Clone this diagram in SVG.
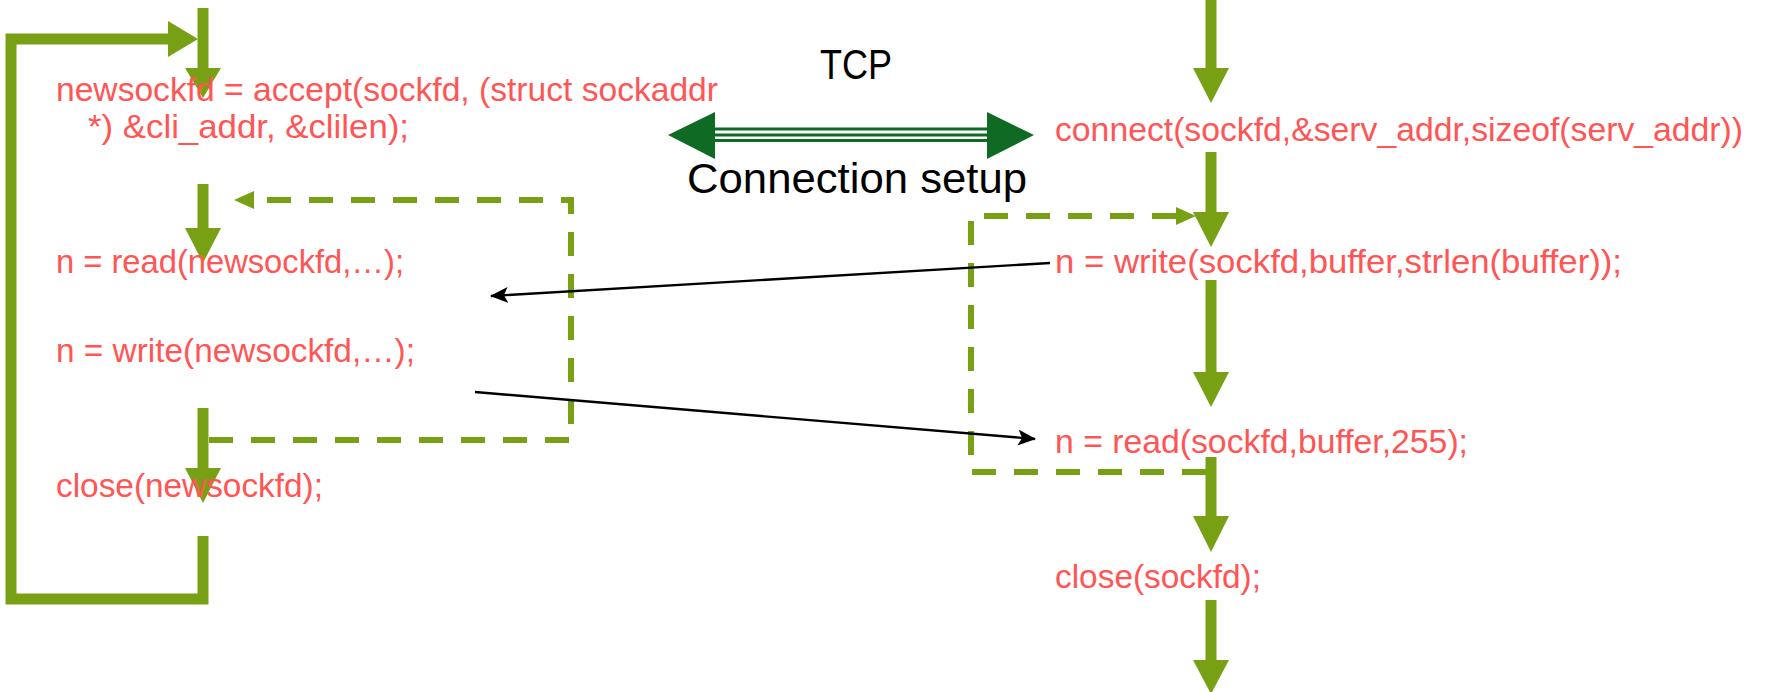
<svg xmlns="http://www.w3.org/2000/svg" width="1765" height="692" viewBox="0 0 1765 692">
<defs>
<style>
.code{font-family:"Liberation Sans",Arial,sans-serif;font-size:34px;fill:#ff5555;}
.lbl{font-family:"Liberation Sans",Arial,sans-serif;font-size:42px;fill:#000;}
.flow{stroke:#78a014;stroke-width:11;fill:none;}
.head{fill:#78a014;}
.dash{stroke:#78a014;stroke-width:6;fill:none;stroke-dasharray:24 18;}
.msg{stroke:#000;stroke-width:2.4;fill:none;marker-end:url(#blk);}
</style>
<marker id="blk" markerWidth="18" markerHeight="16" refX="17" refY="8" orient="auto" markerUnits="userSpaceOnUse">
<path d="M0,0 L18,8 L0,16 L4,8 Z" fill="#000"/>
</marker>
</defs>
<rect width="1765" height="692" fill="#fff"/>
<g id="connectors">
<path class="flow" d="M203,536 V599 H11 V39 H172" stroke-linejoin="miter"/>
<polygon class="head" points="168,21 198,39 168,57"/>
<line class="flow" x1="203" y1="8" x2="203" y2="70"/>
<polygon class="head" points="185,68 221,68 203,98"/>
<line class="flow" x1="203" y1="184" x2="203" y2="230"/>
<polygon class="head" points="185,228 221,228 203,263"/>
<line class="flow" x1="203" y1="408" x2="203" y2="470"/>
<polygon class="head" points="185,468 221,468 203,503"/>
<polyline class="dash" points="209,440 571,440 571,200 253,200"/>
<polygon class="head" points="254,191 254,209 234,200"/>
<line class="flow" x1="1211" y1="0" x2="1211" y2="70"/>
<polygon class="head" points="1193,68 1229,68 1211,103"/>
<line class="flow" x1="1211" y1="152" x2="1211" y2="214"/>
<polygon class="head" points="1193,212 1229,212 1211,247"/>
<line class="flow" x1="1211" y1="280" x2="1211" y2="374"/>
<polygon class="head" points="1193,372 1229,372 1211,407"/>
<line class="flow" x1="1211" y1="457" x2="1211" y2="518"/>
<polygon class="head" points="1193,516 1229,516 1211,552"/>
<line class="flow" x1="1211" y1="600" x2="1211" y2="662"/>
<polygon class="head" points="1193,660 1229,660 1211,694"/>
<polyline class="dash" points="1206,472 971,472 971,216 1178,216"/>
<polygon class="head" points="1176,207 1176,225 1196,216"/>
<line class="msg" x1="1050" y1="263" x2="491" y2="296"/>
<line class="msg" x1="475" y1="392" x2="1035" y2="439"/>
<rect x="712" y="127.5" width="278" height="14.5" fill="#0f6b24"/>
<rect x="712" y="130.5" width="278" height="3" fill="#fff"/>
<rect x="712" y="136.5" width="278" height="2.5" fill="#fff"/>
<polygon points="668,135 715,112 715,159" fill="#0f6b24"/>
<polygon points="1034,135 987,112 987,159" fill="#0f6b24"/>
</g>
<g id="tcp-label">
<text class="lbl" x="820" y="79" font-size="46" textLength="72" lengthAdjust="spacingAndGlyphs">TCP</text>
<text class="lbl" x="687" y="193" textLength="340" lengthAdjust="spacingAndGlyphs">Connection setup</text>
</g>
<g id="accept">
<text class="code" x="56" y="101" textLength="662" lengthAdjust="spacingAndGlyphs">newsockfd = accept(sockfd, (struct sockaddr</text>
<text class="code" x="88" y="138" textLength="321" lengthAdjust="spacingAndGlyphs">*) &amp;cli_addr, &amp;clilen);</text>
</g>
<g id="server-read"><text class="code" x="56" y="273" textLength="348" lengthAdjust="spacingAndGlyphs">n = read(newsockfd,…);</text></g>
<g id="server-write"><text class="code" x="56" y="362" textLength="359" lengthAdjust="spacingAndGlyphs">n = write(newsockfd,…);</text></g>
<g id="server-close"><text class="code" x="56" y="497" textLength="267" lengthAdjust="spacingAndGlyphs">close(newsockfd);</text></g>
<g id="connect"><text class="code" x="1055" y="141" textLength="688" lengthAdjust="spacingAndGlyphs">connect(sockfd,&amp;serv_addr,sizeof(serv_addr))</text></g>
<g id="client-write"><text class="code" x="1055" y="273" textLength="567" lengthAdjust="spacingAndGlyphs">n = write(sockfd,buffer,strlen(buffer));</text></g>
<g id="client-read"><text class="code" x="1055" y="453" textLength="413" lengthAdjust="spacingAndGlyphs">n = read(sockfd,buffer,255);</text></g>
<g id="client-close"><text class="code" x="1055" y="588" textLength="206" lengthAdjust="spacingAndGlyphs">close(sockfd);</text></g>
</svg>
